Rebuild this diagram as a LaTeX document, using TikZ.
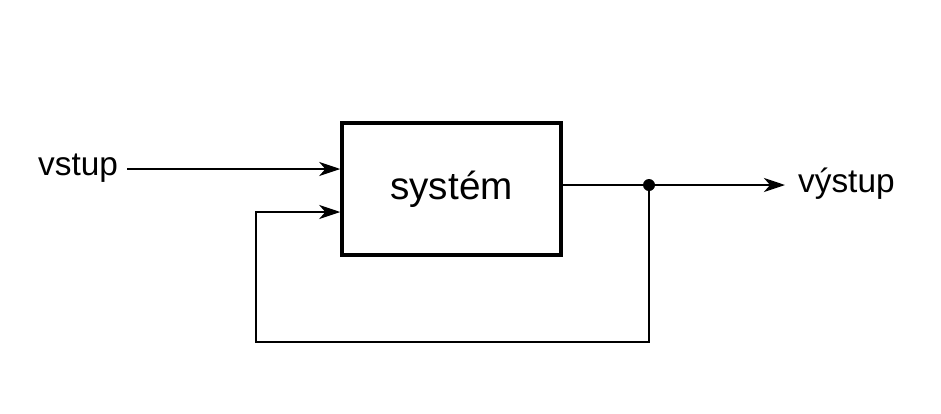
\documentclass[tikz,border=0pt]{standalone}
\usepackage{fontspec}
\setmainfont{Liberation Sans}
\usetikzlibrary{arrows.meta,positioning}

\begin{document}
\begin{tikzpicture}[
        x=0.02cm, y=-0.02cm,
        line width=1.3pt,
        blok/.style={draw, line width=2pt, minimum width=4.38cm, minimum height=2.64cm, font=\fontsize{22}{26}\selectfont},
        popis/.style={inner sep=0pt, font=\fontsize{19}{23}\selectfont},
        sipka/.style={-{Stealth[length=12pt,width=8pt,inset=3.5pt]}}
    ]
    \useasboundingbox (0,0) rectangle (941,413);
    \node[blok] (sys) at (451.5,189) {systém};
    \node[popis, anchor=base west] (vstup) at (37,175) {vstup};
    \node[popis, anchor=base west] (vystup) at (797,192.5) {výstup};
    \coordinate (start) at (127,169);
    \coordinate (uzel) at (649,185);
    \coordinate (konec) at (785,185);
    \coordinate (dole) at (256,342);
    \coordinate (zpet) at (256,212);
    \draw[sipka] (start) -- (sys.west |- start);
    \draw[sipka] (sys.east |- uzel) -- (uzel) -- (konec);
    \draw[sipka] (uzel) |- (dole) -- (zpet) -- (sys.west |- zpet);
    \fill (uzel) circle (6);
\end{tikzpicture}
\end{document}
